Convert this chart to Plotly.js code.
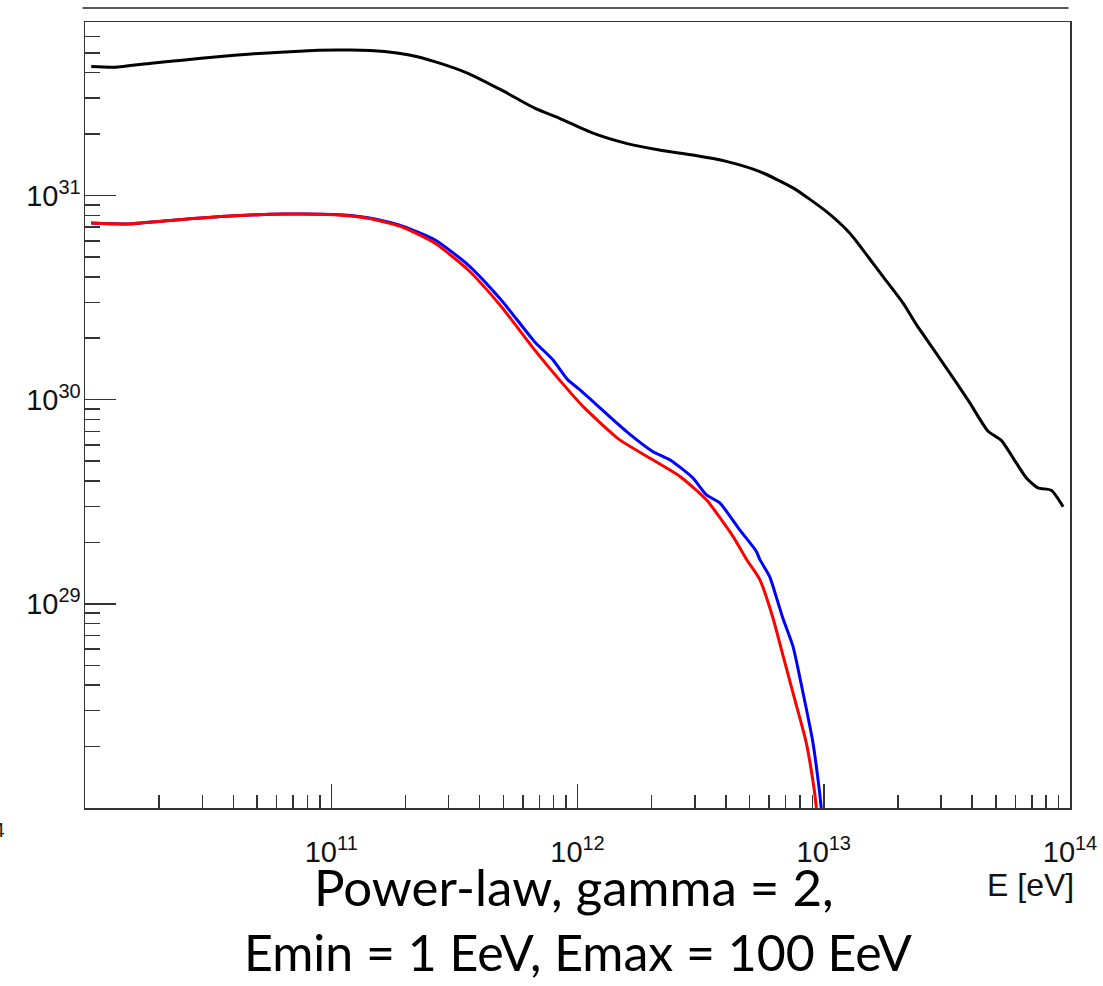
<!DOCTYPE html>
<html>
<head>
<meta charset="utf-8">
<script src="https://cdn.plot.ly/plotly-3.0.1.min.js"></script>
<style>
  html, body { margin: 0; padding: 0; background: #ffffff; }
  #chart { width: 1103px; height: 986px; }
</style>
</head>
<body>
<div id="chart"></div>
<script>
// Energy grid (eV) and spectra for the three curves
const energyBlack = [1.06e10, 1.32e10, 1.86e10, 2.54e10, 3.46e10, 4.73e10, 6.46e10, 8.83e10,
  1.205e11, 1.644e11, 2.05e11, 2.63e11, 3.59e11, 4.90e11, 6.70e11, 8.45e11,
  1.156e12, 1.578e12, 2.15e12, 2.94e12, 4.02e12, 5.50e12, 7.50e12,
  1.023e13, 1.274e13, 1.535e13, 1.738e13, 2.10e13, 2.38e13, 2.86e13, 3.46e13, 3.92e13,
  4.65e13, 5.26e13, 6.05e13, 6.65e13, 7.41e13, 8.39e13, 9.38e13];
const fluxBlack = [4.28e31, 4.25e31, 4.45e31, 4.61e31, 4.79e31, 4.94e31, 5.05e31, 5.15e31,
  5.16e31, 5.07e31, 4.89e31, 4.53e31, 3.97e31, 3.29e31, 2.68e31, 2.39e31,
  2.02e31, 1.80e31, 1.67e31, 1.58e31, 1.47e31, 1.31e31, 1.09e31,
  8.36e30, 6.55e30, 4.90e30, 4.02e30, 2.97e30, 2.33e30, 1.69e30, 1.21e30, 9.64e29,
  7.00e29, 6.32e29, 4.90e29, 4.14e29, 3.70e29, 3.60e29, 2.99e29];

const energyBlue = [1.06e10, 1.49e10, 2.54e10, 4.05e10, 6.46e10, 1.03e11, 1.41e11, 1.92e11,
  2.63e11, 3.59e11, 4.90e11, 6.68e11, 7.94e11, 9.14e11, 1.021e12, 1.578e12, 2.02e12, 2.37e12,
  2.94e12, 3.33e12, 3.78e12, 4.55e12, 5.32e12, 5.50e12, 6.03e12, 6.22e12, 6.82e12, 7.50e12,
  8.24e12, 9.04e12, 9.62e12, 9.77e12];
const fluxBlue = [7.33e30, 7.26e30, 7.66e30, 7.96e30, 8.11e30, 8.07e30, 7.78e30, 7.12e30,
  6.07e30, 4.58e30, 3.08e30, 1.93e30, 1.57e30, 1.25e30, 1.12e30, 7.00e29, 5.58e29, 5.08e29,
  4.14e29, 3.43e29, 3.12e29, 2.31e29, 1.81e29, 1.65e29, 1.36e29, 1.22e29, 8.53e28, 6.19e28,
  3.66e28, 2.09e28, 1.19e28, 1.0e28];

const energyRed = [1.06e10, 1.49e10, 2.54e10, 4.05e10, 6.46e10, 1.03e11, 1.41e11, 1.92e11,
  2.63e11, 3.59e11, 4.90e11, 6.68e11, 9.14e11, 1.052e12, 1.48e12, 2.02e12, 2.60e12, 3.33e12,
  4.28e12, 4.86e12, 5.50e12, 6.22e12, 6.62e12, 7.50e12, 8.49e12, 9.18e12, 9.33e12];
const fluxRed = [7.33e30, 7.26e30, 7.66e30, 7.96e30, 8.11e30, 8.05e30, 7.74e30, 7.05e30,
  5.85e30, 4.33e30, 2.86e30, 1.76e30, 1.12e30, 9.27e29, 6.37e29, 5.08e29, 4.22e29, 3.24e29,
  2.14e29, 1.65e29, 1.315e29, 8.53e28, 6.44e28, 3.66e28, 2.09e28, 1.19e28, 1.0e28];

// Axis tick labels
const xTickVals = [1e11, 1e12, 1e13, 1e14];
const xTickText = ['10<sup><span style="font-size:20px">11</span></sup>',
                   '10<sup><span style="font-size:20px">12</span></sup>',
                   '10<sup><span style="font-size:20px">13</span></sup>',
                   '10<sup><span style="font-size:20px">14</span></sup>'];
const yTickVals = [1e29, 1e30, 1e31];
const yTickText = ['10<sup><span style="font-size:20px">29</span></sup>',
                   '10<sup><span style="font-size:20px">30</span></sup>',
                   '10<sup><span style="font-size:20px">31</span></sup>'];

const captionLine1 = 'Power-law, gamma = 2,';
const captionLine2 = 'Emin = 1 EeV, Emax = 100 EeV';
const xAxisTitle = 'E [eV]';

// minor ticks at 2..9 of each decade
function minorTicks(lo, hi) {
  const out = [];
  for (let d = lo; d < hi; d++) {
    for (let k = 2; k <= 9; k++) out.push(k * Math.pow(10, d));
  }
  return out;
}

const axisColor = '#333333';
const labelFont = 'Liberation Sans, Arial, Helvetica, sans-serif';
const tickFont = { family: labelFont, size: 29, color: '#111111' };

const lineStyle = (c) => ({ color: c, width: 3, shape: 'spline', smoothing: 0.6 });

const traces = [
  { x: energyBlue, y: fluxBlue, mode: 'lines', line: lineStyle('#0000ff'), hoverinfo: 'skip' },
  { x: energyRed, y: fluxRed, mode: 'lines', line: lineStyle('#ff0000'), hoverinfo: 'skip' },
  { x: energyBlack, y: fluxBlack, mode: 'lines', line: lineStyle('#000000'), hoverinfo: 'skip' }
];

const layout = {
  width: 1103,
  height: 986,
  margin: { l: 85, r: 33, t: 22, b: 178 },
  paper_bgcolor: '#ffffff',
  plot_bgcolor: '#ffffff',
  showlegend: false,
  xaxis: {
    type: 'log',
    range: [10, 14],
    tickmode: 'array',
    tickvals: xTickVals,
    ticktext: xTickText,
    ticks: 'inside',
    ticklen: 24,
    tickwidth: 1.5,
    tickcolor: axisColor,
    tickfont: tickFont,
    ticklabelstandoff: 18,
    showline: true,
    linecolor: axisColor,
    linewidth: 1.5,
    mirror: true,
    showgrid: false,
    zeroline: false,
    minor: { tickmode: 'array', tickvals: minorTicks(10, 14), ticks: 'inside', ticklen: 13, tickwidth: 1.5, tickcolor: axisColor, showgrid: false }
  },
  yaxis: {
    type: 'log',
    range: [28, 31.85],
    tickmode: 'array',
    tickvals: yTickVals,
    ticktext: yTickText,
    ticks: 'inside',
    ticklen: 31,
    tickwidth: 1.5,
    tickcolor: axisColor,
    tickfont: tickFont,
    ticklabelstandoff: -3,
    showline: true,
    linecolor: axisColor,
    linewidth: 1.5,
    mirror: true,
    showgrid: false,
    zeroline: false,
    minor: { tickmode: 'array', tickvals: minorTicks(28, 32), ticks: 'inside', ticklen: 15, tickwidth: 1.5, tickcolor: axisColor, showgrid: false }
  },
  shapes: [
    { type: 'line', xref: 'paper', yref: 'paper', x0: -0.0025, x1: 0.9985, y0: 1.0178, y1: 1.0178,
      line: { color: '#222222', width: 1.5 } }
  ],
  annotations: [
    { text: xAxisTitle, xref: 'paper', yref: 'paper', x: 1.006, y: -0.098, xanchor: 'right', yanchor: 'middle',
      showarrow: false, font: { family: labelFont, size: 32, color: '#111111' } },
    { text: captionLine1, xref: 'paper', yref: 'paper', x: 0.496, y: -0.1, xanchor: 'center', yanchor: 'middle',
      showarrow: false, font: { family: 'Lato, Open Sans, sans-serif', size: 51, color: '#000000' } },
    { text: captionLine2, xref: 'paper', yref: 'paper', x: 0.501, y: -0.183, xanchor: 'center', yanchor: 'middle',
      showarrow: false, font: { family: 'Lato, Open Sans, sans-serif', size: 50, color: '#000000' } },
    { text: '4', xref: 'paper', yref: 'paper', x: -0.079, y: -0.027, xanchor: 'right', yanchor: 'middle',
      showarrow: false, font: { family: labelFont, size: 21, color: '#222222' } }
  ]
};

Plotly.newPlot('chart', traces, layout, { staticPlot: true, displayModeBar: false });
</script>
</body>
</html>
